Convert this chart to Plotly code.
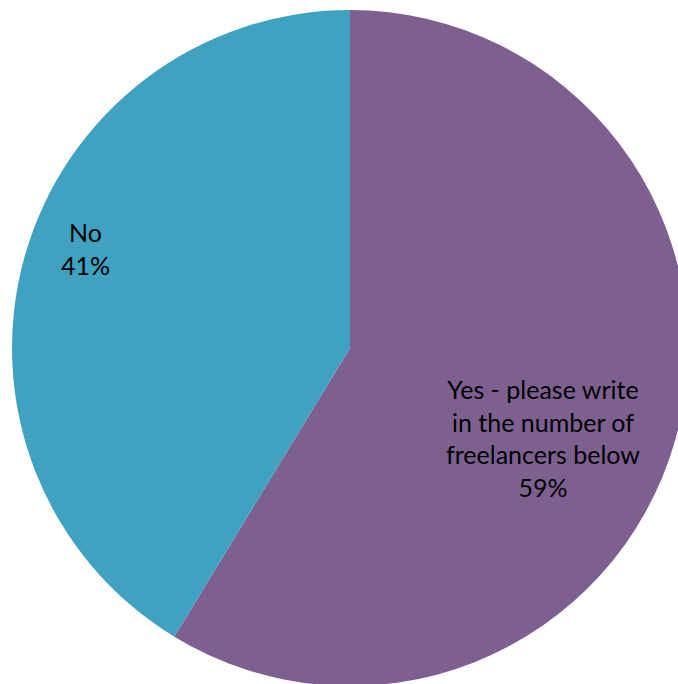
import plotly.graph_objects as go

labels = ["Yes - please write<br>in the number of<br>freelancers below", "No"]
values = [58.7, 41.3]
colors = ["#7d6090", "#40a1c1"]

W, H = 700, 700
cx, cy, r = 350, 348, 338  # pie centre / radius in pixels (from top-left)

fig = go.Figure(go.Pie(
    labels=labels,
    values=values,
    sort=False,
    direction="clockwise",
    rotation=0,
    marker=dict(colors=colors, line=dict(width=0)),
    textinfo="none",
    hoverinfo="label+percent",
    domain=dict(x=[(cx - r) / W, (cx + r) / W],
                y=[(H - cy - r) / H, (H - cy + r) / H]),
    showlegend=False,
))

label_pos = [(543, 438), (85, 248)]
total = sum(values)
for lab, v, (px, py) in zip(labels, values, label_pos):
    fig.add_annotation(
        x=px / W, y=1 - py / H, xref="paper", yref="paper",
        text=f"{lab}<br>{round(100 * v / total)}%",
        showarrow=False, xanchor="center", yanchor="middle",
        font=dict(family="Lato", size=25, color="#000000"),
        align="center",
    )

fig.update_layout(
    width=W, height=H,
    margin=dict(l=0, r=0, t=0, b=0),
    paper_bgcolor="white",
    plot_bgcolor="white",
)
fig.write_html(
    "out.html",
    config={"displayModeBar": False},
    post_script="document.body.style.margin='0';"
                "document.documentElement.style.overflow='hidden';"
                "document.body.style.overflow='hidden';",
)
